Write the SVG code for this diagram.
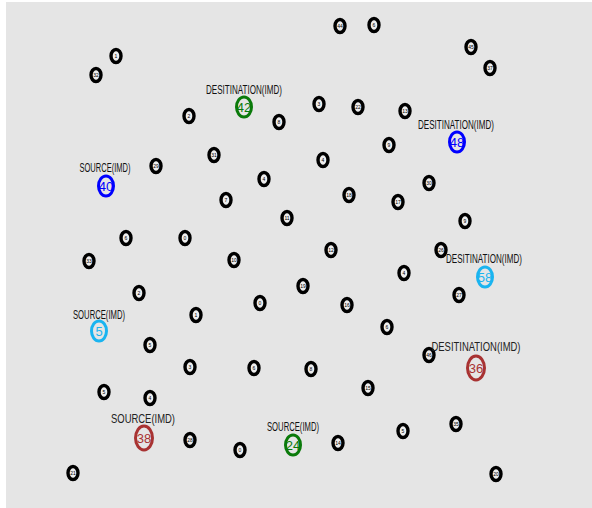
<svg xmlns="http://www.w3.org/2000/svg" width="592" height="508" viewBox="0 0 592 508">
<style>
.bg{fill:#e5e5e5}
.n ellipse{fill:#eeeeee;stroke:#000;stroke-width:3.4}
.n text{font-family:"Liberation Sans",Arial,sans-serif;font-size:5px;fill:#000;text-anchor:middle;dominant-baseline:central}
.c ellipse{fill:#e5e5e5;stroke-width:3}
.c text{font-family:"Liberation Sans",Arial,sans-serif;font-size:13px;text-anchor:middle;dominant-baseline:central}
.lbl{font-family:"Liberation Serif","Times New Roman",serif;font-size:10px;fill:#111;text-anchor:middle}
.lbl2{font-family:"Liberation Serif","Times New Roman",serif;font-size:13px;fill:#222;text-anchor:middle}
</style>
<rect class="bg" x="6" y="2" width="586" height="506"/>
<g id="connectors"></g>
<g id="n1" class="n"><ellipse cx="116" cy="56" rx="5" ry="6.5"/><text x="116" y="56">1</text></g>
<g id="n2" class="n"><ellipse cx="96" cy="75" rx="5" ry="6.5"/><text x="96" y="75">32</text></g>
<g id="n3" class="n"><ellipse cx="340" cy="26" rx="5" ry="6.5"/><text x="340" y="26">44</text></g>
<g id="n4" class="n"><ellipse cx="374" cy="25" rx="5" ry="6.5"/><text x="374" y="25">6</text></g>
<g id="n5" class="n"><ellipse cx="471" cy="47" rx="5" ry="6.5"/><text x="471" y="47">45</text></g>
<g id="n6" class="n"><ellipse cx="490" cy="68" rx="5" ry="6.5"/><text x="490" y="68">37</text></g>
<g id="n7" class="n"><ellipse cx="189" cy="116" rx="5" ry="6.5"/><text x="189" y="116">2</text></g>
<g id="n8" class="n"><ellipse cx="279" cy="122" rx="5" ry="6.5"/><text x="279" y="122">8</text></g>
<g id="n9" class="n"><ellipse cx="319" cy="104" rx="5" ry="6.5"/><text x="319" y="104">3</text></g>
<g id="n10" class="n"><ellipse cx="358" cy="107" rx="5" ry="6.5"/><text x="358" y="107">22</text></g>
<g id="n11" class="n"><ellipse cx="405" cy="111" rx="5" ry="6.5"/><text x="405" y="111">13</text></g>
<g id="n12" class="n"><ellipse cx="389" cy="145" rx="5" ry="6.5"/><text x="389" y="145">9</text></g>
<g id="n13" class="n"><ellipse cx="156" cy="166" rx="5" ry="6.5"/><text x="156" y="166">29</text></g>
<g id="n14" class="n"><ellipse cx="214" cy="155" rx="5" ry="6.5"/><text x="214" y="155">31</text></g>
<g id="n15" class="n"><ellipse cx="323" cy="160" rx="5" ry="6.5"/><text x="323" y="160">4</text></g>
<g id="n16" class="n"><ellipse cx="264" cy="179" rx="5" ry="6.5"/><text x="264" y="179">4</text></g>
<g id="n17" class="n"><ellipse cx="226" cy="200" rx="5" ry="6.5"/><text x="226" y="200">7</text></g>
<g id="n18" class="n"><ellipse cx="349" cy="195" rx="5" ry="6.5"/><text x="349" y="195">18</text></g>
<g id="n19" class="n"><ellipse cx="398" cy="202" rx="5" ry="6.5"/><text x="398" y="202">17</text></g>
<g id="n20" class="n"><ellipse cx="429" cy="183" rx="5" ry="6.5"/><text x="429" y="183">30</text></g>
<g id="n21" class="n"><ellipse cx="287" cy="218" rx="5" ry="6.5"/><text x="287" y="218">11</text></g>
<g id="n22" class="n"><ellipse cx="465" cy="221" rx="5" ry="6.5"/><text x="465" y="221">9</text></g>
<g id="n23" class="n"><ellipse cx="126" cy="238" rx="5" ry="6.5"/><text x="126" y="238">6</text></g>
<g id="n24" class="n"><ellipse cx="185" cy="238" rx="5" ry="6.5"/><text x="185" y="238">0</text></g>
<g id="n25" class="n"><ellipse cx="89" cy="261" rx="5" ry="6.5"/><text x="89" y="261">33</text></g>
<g id="n26" class="n"><ellipse cx="234" cy="260" rx="5" ry="6.5"/><text x="234" y="260">10</text></g>
<g id="n27" class="n"><ellipse cx="331" cy="250" rx="5" ry="6.5"/><text x="331" y="250">12</text></g>
<g id="n28" class="n"><ellipse cx="441" cy="250" rx="5" ry="6.5"/><text x="441" y="250">26</text></g>
<g id="n29" class="n"><ellipse cx="404" cy="273" rx="5" ry="6.5"/><text x="404" y="273">4</text></g>
<g id="n30" class="n"><ellipse cx="139" cy="293" rx="5" ry="6.5"/><text x="139" y="293">2</text></g>
<g id="n31" class="n"><ellipse cx="303" cy="286" rx="5" ry="6.5"/><text x="303" y="286">19</text></g>
<g id="n32" class="n"><ellipse cx="459" cy="295" rx="5" ry="6.5"/><text x="459" y="295">27</text></g>
<g id="n33" class="n"><ellipse cx="260" cy="303" rx="5" ry="6.5"/><text x="260" y="303">0</text></g>
<g id="n34" class="n"><ellipse cx="347" cy="305" rx="5" ry="6.5"/><text x="347" y="305">16</text></g>
<g id="n35" class="n"><ellipse cx="196" cy="315" rx="5" ry="6.5"/><text x="196" y="315">1</text></g>
<g id="n36" class="n"><ellipse cx="387" cy="327" rx="5" ry="6.5"/><text x="387" y="327">6</text></g>
<g id="n37" class="n"><ellipse cx="150" cy="345" rx="5" ry="6.5"/><text x="150" y="345">5</text></g>
<g id="n38" class="n"><ellipse cx="429" cy="355" rx="5" ry="6.5"/><text x="429" y="355">46</text></g>
<g id="n39" class="n"><ellipse cx="190" cy="367" rx="5" ry="6.5"/><text x="190" y="367">3</text></g>
<g id="n40" class="n"><ellipse cx="254" cy="368" rx="5" ry="6.5"/><text x="254" y="368">6</text></g>
<g id="n41" class="n"><ellipse cx="311" cy="369" rx="5" ry="6.5"/><text x="311" y="369">8</text></g>
<g id="n42" class="n"><ellipse cx="368" cy="388" rx="5" ry="6.5"/><text x="368" y="388">15</text></g>
<g id="n43" class="n"><ellipse cx="104" cy="392" rx="5" ry="6.5"/><text x="104" y="392">5</text></g>
<g id="n44" class="n"><ellipse cx="150" cy="398" rx="5" ry="6.5"/><text x="150" y="398">4</text></g>
<g id="n45" class="n"><ellipse cx="190" cy="440" rx="5" ry="6.5"/><text x="190" y="440">28</text></g>
<g id="n46" class="n"><ellipse cx="240" cy="450" rx="5" ry="6.5"/><text x="240" y="450">0</text></g>
<g id="n47" class="n"><ellipse cx="338" cy="443" rx="5" ry="6.5"/><text x="338" y="443">14</text></g>
<g id="n48" class="n"><ellipse cx="403" cy="431" rx="5" ry="6.5"/><text x="403" y="431">5</text></g>
<g id="n49" class="n"><ellipse cx="456" cy="424" rx="5" ry="6.5"/><text x="456" y="424">35</text></g>
<g id="n50" class="n"><ellipse cx="73" cy="473" rx="5" ry="6.5"/><text x="73" y="473">21</text></g>
<g id="n51" class="n"><ellipse cx="496" cy="474" rx="5" ry="6.5"/><text x="496" y="474">20</text></g>
<g id="node42" class="c"><text class="lbl" x="244" y="89" textLength="76" lengthAdjust="spacingAndGlyphs">DESITINATION(IMD)</text><ellipse cx="244" cy="107" rx="7.5" ry="10" stroke="#0a7a0a"/><text x="244" y="107" fill="#0a7a0a">42</text></g>
<g id="node48" class="c"><text class="lbl" x="456" y="124" textLength="76" lengthAdjust="spacingAndGlyphs">DESITINATION(IMD)</text><ellipse cx="457" cy="142" rx="7.5" ry="10" stroke="#0000ff"/><text x="457" y="142" fill="#0000ff">48</text></g>
<g id="node40" class="c"><text class="lbl" x="105" y="167" textLength="51" lengthAdjust="spacingAndGlyphs">SOURCE(IMD)</text><ellipse cx="106" cy="186" rx="7.5" ry="10" stroke="#0000ff"/><text x="106" y="186" fill="#0000ff">40</text></g>
<g id="node58" class="c"><text class="lbl" x="484" y="258" textLength="76" lengthAdjust="spacingAndGlyphs">DESITINATION(IMD)</text><ellipse cx="485" cy="277" rx="7.5" ry="10" stroke="#1ab4f0"/><text x="485" y="277" fill="#1ab4f0">58</text></g>
<g id="node5" class="c"><text class="lbl" x="99" y="314" textLength="52" lengthAdjust="spacingAndGlyphs">SOURCE(IMD)</text><ellipse cx="99" cy="331" rx="7.5" ry="10" stroke="#1ab4f0"/><text x="99" y="331" fill="#1ab4f0">5</text></g>
<g id="node36" class="c"><text class="lbl2" x="476" y="346" textLength="89" lengthAdjust="spacingAndGlyphs">DESITINATION(IMD)</text><ellipse cx="476" cy="368" rx="8.5" ry="12" stroke="#a83232"/><text x="476" y="368" fill="#a83232" font-size="16">36</text></g>
<g id="node38" class="c"><text class="lbl2" x="143" y="418" textLength="64" lengthAdjust="spacingAndGlyphs">SOURCE(IMD)</text><ellipse cx="144" cy="438" rx="8.5" ry="12" stroke="#a83232"/><text x="144" y="438" fill="#a83232" font-size="16">38</text></g>
<g id="node24" class="c"><text class="lbl" x="293" y="426" textLength="52" lengthAdjust="spacingAndGlyphs">SOURCE(IMD)</text><ellipse cx="293" cy="445" rx="7.5" ry="10" stroke="#0a7a0a"/><text x="293" y="445" fill="#0a7a0a">24</text></g>
</svg>
